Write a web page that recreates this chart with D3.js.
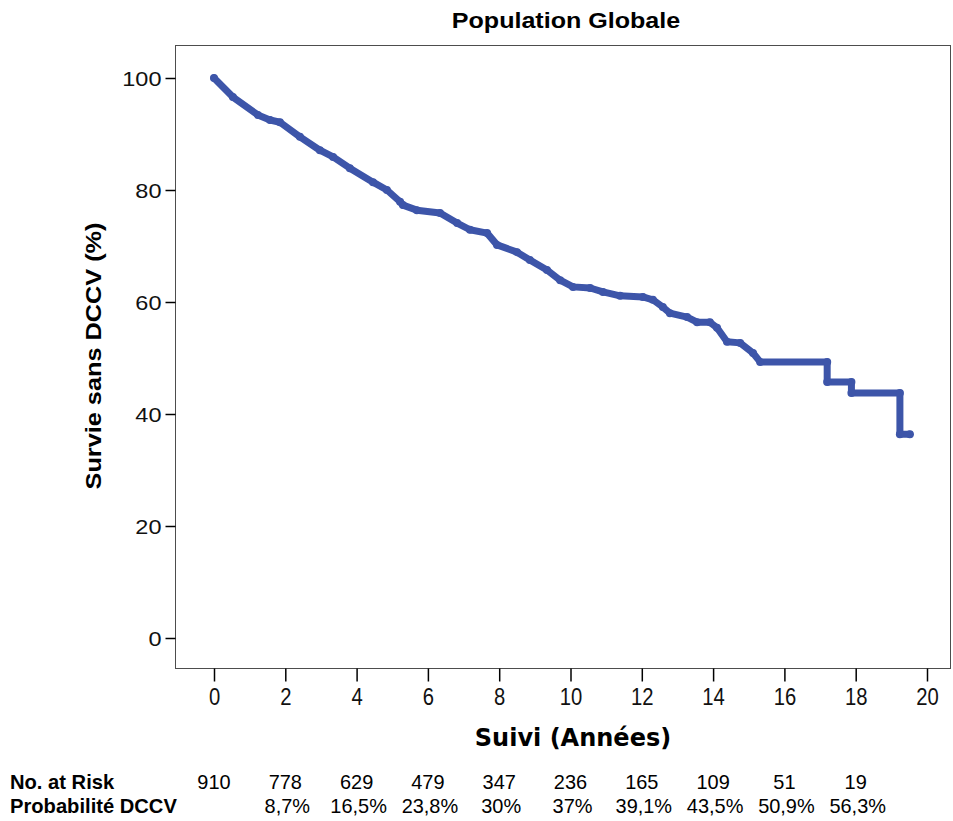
<!DOCTYPE html>
<html>
<head>
<meta charset="utf-8">
<script src="https://cdn.jsdelivr.net/npm/d3@7"></script>
<style>
  body { margin: 0; background: #fff; }
  svg { display: block; }
</style>
</head>
<body>
<svg width="953" height="821"></svg>
<script>
// Courbe de survie (années, %)
const temps = [0, 0.53, 1.23, 1.57, 1.85, 2.41, 2.97, 3.34, 3.81, 4.46, 4.85, 5.22, 5.30, 5.69,
  6.34, 6.82, 7.18, 7.66, 7.94, 8.50, 8.86, 9.34, 9.71, 10.07, 10.55, 10.91, 11.39, 12.03,
  12.31, 12.59, 12.79, 13.27, 13.55, 13.91, 14.11, 14.39, 14.76, 15.12, 15.32,
  17.20, 17.20, 17.88, 17.88, 19.24, 19.24, 19.52];
const survie = [100, 96.6, 93.4, 92.5, 92.1, 89.5, 87.1, 85.9, 83.9, 81.4, 80.0, 77.9, 77.3, 76.4,
  75.9, 74.1, 72.9, 72.3, 70.2, 68.9, 67.5, 65.7, 63.9, 62.7, 62.5, 61.8, 61.1, 60.9,
  60.4, 59.1, 58.0, 57.3, 56.4, 56.4, 55.4, 52.9, 52.7, 50.9, 49.3,
  49.3, 45.7, 45.7, 43.75, 43.75, 36.4, 36.4];

const xTicks = [0, 2, 4, 6, 8, 10, 12, 14, 16, 18, 20];
const yTicks = [0, 20, 40, 60, 80, 100];

// Tableau sous le graphique (une colonne par temps)
const tempsTableau = [0, 2, 4, 6, 8, 10, 12, 14, 16, 18];
const nbRisque = ["910", "778", "629", "479", "347", "236", "165", "109", "51", "19"];
const probaDCCV = ["", "8,7%", "16,5%", "23,8%", "30%", "37%", "39,1%", "43,5%", "50,9%", "56,3%"];

const bleu = "#3d55a9";
const police = "'Liberation Sans', Arial, sans-serif";

const svg = d3.select("svg");

// Cadre du graphique
const box = { left: 175, right: 950, top: 45, bottom: 668 };

const x = d3.scaleLinear().domain([0, 20]).range([214, 927]);
const y = d3.scaleLinear().domain([0, 100]).range([638, 78]);

svg.append("rect")
  .attr("x", box.left + 0.5)
  .attr("y", box.top + 0.5)
  .attr("width", box.right - box.left)
  .attr("height", box.bottom - box.top)
  .attr("fill", "none")
  .attr("stroke", "#4d4d4d")
  .attr("stroke-width", 1);

// Axe X
const gx = svg.append("g")
  .attr("transform", `translate(0,${box.bottom + 0.5})`)
  .call(d3.axisBottom(x).tickValues(xTicks).tickSize(13).tickPadding(7));
gx.select(".domain").remove();
gx.selectAll(".tick line").attr("stroke", "#000").attr("stroke-width", 1.5);
gx.selectAll(".tick text")
  .attr("fill", "#111")
  .attr("transform", "scale(0.88,1)")
  .style("font-family", police)
  .style("font-size", "23px");

// Axe Y
const gy = svg.append("g")
  .attr("transform", `translate(${box.left + 0.5},0)`)
  .call(d3.axisLeft(y).tickValues(yTicks).tickSize(10).tickPadding(0));
gy.select(".domain").remove();
gy.selectAll(".tick line").attr("stroke", "#000").attr("stroke-width", 1.5);
gy.selectAll(".tick text").remove();
gy.selectAll(".tick")
  .append("text")
  .attr("transform", "translate(-14,0) scale(1.12,1)")
  .attr("dy", "0.36em")
  .attr("text-anchor", "end")
  .attr("fill", "#111")
  .style("font-family", police)
  .style("font-size", "21px")
  .text(d => d);

// Courbe de Kaplan-Meier
const points = temps.map((t, i) => [t, survie[i]]);
const ligne = d3.line()
  .x(d => x(d[0]))
  .y(d => y(d[1]));

svg.append("path")
  .datum(points)
  .attr("d", ligne)
  .attr("fill", "none")
  .attr("stroke", bleu)
  .attr("stroke-width", 7)
  .attr("stroke-linejoin", "round")
  .attr("stroke-linecap", "round");

svg.append("g")
  .selectAll("circle")
  .data(points)
  .join("circle")
  .attr("cx", d => x(d[0]))
  .attr("cy", d => y(d[1]))
  .attr("r", 4)
  .attr("fill", bleu);

// Titres
svg.append("text")
  .attr("transform", "translate(566,28) scale(1.14,1)")
  .attr("text-anchor", "middle")
  .style("font-family", police)
  .style("font-weight", "bold")
  .style("font-size", "22px")
  .text("Population Globale");

svg.append("text")
  .attr("transform", "translate(101,356) rotate(-90) scale(1.15,1)")
  .attr("text-anchor", "middle")
  .style("font-family", police)
  .style("font-weight", "bold")
  .style("font-size", "22px")
  .text("Survie sans DCCV (%)");

svg.append("text")
  .attr("x", 573)
  .attr("y", 746)
  .attr("text-anchor", "middle")
  .style("font-family", "'DejaVu Sans', Verdana, sans-serif")
  .style("font-weight", "bold")
  .style("font-size", "24px")
  .text("Suivi (Années)");

// Tableau des effectifs
const rangs = [789, 813];

svg.append("text")
  .attr("transform", `translate(10,${rangs[0]}) scale(0.96,1)`)
  .style("font-family", police)
  .style("font-weight", "bold")
  .style("font-size", "21px")
  .text("No. at Risk");

svg.append("text")
  .attr("transform", `translate(10,${rangs[1]}) scale(0.96,1)`)
  .style("font-family", police)
  .style("font-weight", "bold")
  .style("font-size", "21px")
  .text("Probabilité DCCV");

svg.append("g")
  .selectAll("text")
  .data(nbRisque)
  .join("text")
  .attr("transform", (d, i) => `translate(${x(tempsTableau[i])},${rangs[0]}) scale(0.95,1)`)
  .attr("text-anchor", "middle")
  .style("font-family", police)
  .style("font-size", "21px")
  .text(d => d);

svg.append("g")
  .selectAll("text")
  .data(probaDCCV)
  .join("text")
  .attr("transform", (d, i) => `translate(${x(tempsTableau[i]) + 2},${rangs[1]}) scale(0.95,1)`)
  .attr("text-anchor", "middle")
  .style("font-family", police)
  .style("font-size", "21px")
  .text(d => d);
</script>
</body>
</html>
